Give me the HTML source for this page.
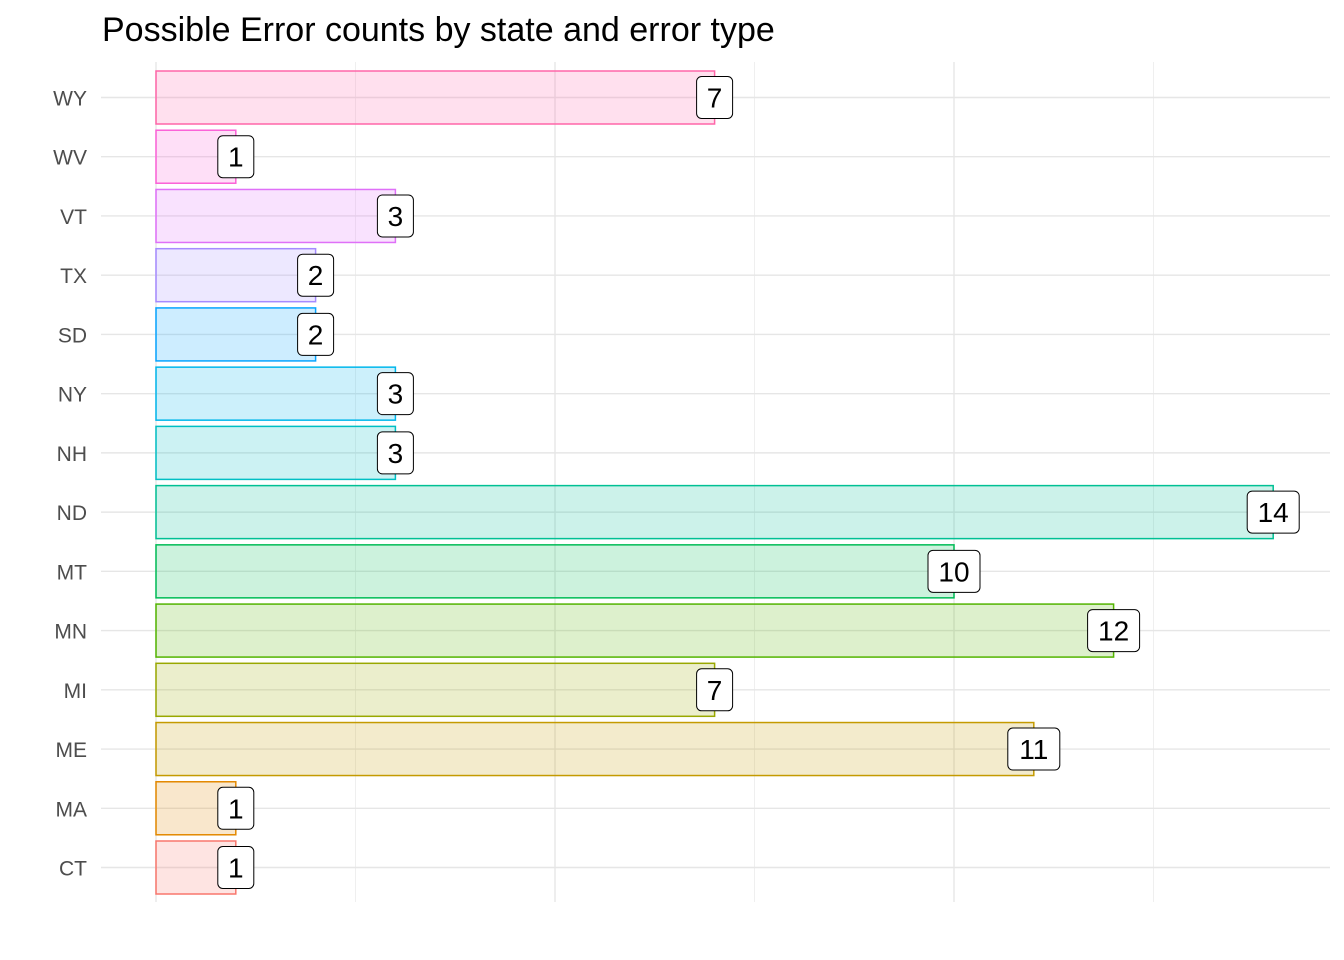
<!DOCTYPE html>
<html><head><meta charset="utf-8"><style>
body{margin:0;background:#fff;}
svg{display:block;font-family:"Liberation Sans",Arial,sans-serif;}
</style></head><body>
<svg id="chart" width="1344" height="960">
<text x="102" y="41" font-size="34" fill="#000">Possible Error counts by state and error type</text>
<g id="grid"></g><g id="bars"></g><g id="labels"></g><g id="yaxis"></g>
</svg>
<script>
const states=["CT","MA","ME","MI","MN","MT","ND","NH","NY","SD","TX","VT","WV","WY"];
const counts=[1,1,11,7,12,10,14,3,3,2,2,3,1,7];
const colors=["#F8766D","#E38900","#C49A00","#99A800","#53B400","#00BC56","#00C094","#00BFC4","#00B6EB","#06A4FF","#A58AFF","#DF70F8","#FB61D7","#FF66A8"];
const xTicks=[0,2.5,5,7.5,10,12.5];
const NS="http://www.w3.org/2000/svg";
const x0=156,pxPer=79.8;
const xs=v=>x0+v*pxPer;
const yTop=97.5,yBot=867.5;
const ys=i=>yBot-i*(yBot-yTop)/(states.length-1);
const bh=53;
function mk(t,a,p){const e=document.createElementNS(NS,t);for(const k in a)e.setAttribute(k,a[k]);p.appendChild(e);return e;}
const grid=document.getElementById('grid'),bars=document.getElementById('bars'),labels=document.getElementById('labels'),yax=document.getElementById('yaxis');
xTicks.forEach(v=>{
 const l=mk('line',{x1:xs(v),x2:xs(v),y1:62,y2:902,stroke:v%5===0?'#e6e6e6':'#efefef','stroke-width':v%5===0?1.4:1},grid);
 
 
});
states.forEach((s,i)=>{
 const y=ys(i);
 const g=mk('line',{x1:101,x2:1330,y1:y,y2:y,stroke:'#e6e6e6','stroke-width':1.4},grid);
 
 
 const t=mk('text',{x:87,y:y+8,'text-anchor':'end','font-size':21,fill:'#4d4d4d'},yax);
 t.textContent=s;
 
 
 const r=mk('rect',{x:x0,y:y-bh/2,width:xs(counts[i])-x0,height:bh,fill:colors[i],'fill-opacity':0.2,stroke:colors[i],'stroke-width':1.5},bars);
 
 
 const txt=String(counts[i]);
 const w=txt.length>1?52:36;
 const cx=xs(counts[i]);
 const b=mk('rect',{x:cx-w/2,y:y-21,width:w,height:42,rx:5,fill:'#fff',stroke:'#000','stroke-width':1},labels);
 
 
 const lt=mk('text',{x:cx,y:y+10,'text-anchor':'middle','font-size':28,fill:'#000'},labels);
 lt.textContent=txt;
 
 
});
</script>
</body></html>
